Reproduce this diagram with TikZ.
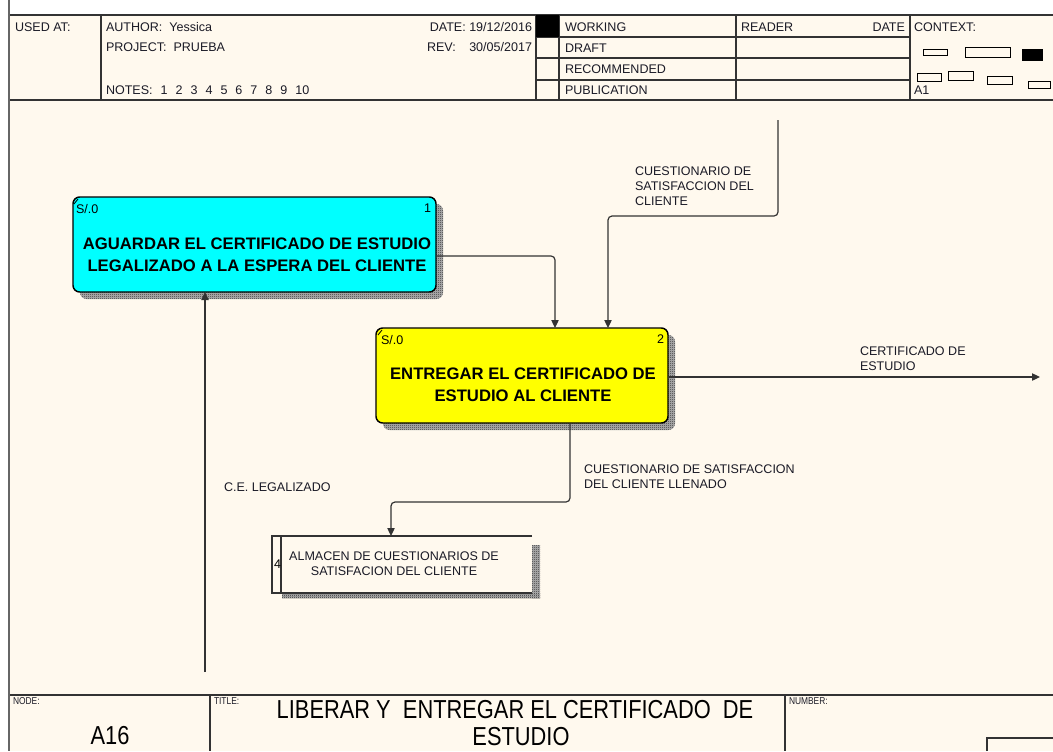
\documentclass[tikz,border=0pt]{standalone}
\usepackage{fontspec}
\setmainfont{Liberation Sans}
\newfontfamily\narrowfont[FakeStretch=0.84]{Liberation Sans}
\usetikzlibrary{arrows.meta,patterns}
\definecolor{paper}{HTML}{FFF9EE}
\definecolor{rule}{HTML}{333333}
\definecolor{ink}{HTML}{1A1A26}
\definecolor{boxcyan}{HTML}{00FFFF}
\definecolor{boxyellow}{HTML}{FFFF00}
% fine checker used for the box shadows
\pgfdeclarepatternformonly{finecheck}{\pgfpointorigin}{\pgfqpoint{1.5pt}{1.5pt}}{\pgfqpoint{1.5pt}{1.5pt}}{%
  \pgfpathrectangle{\pgfpointorigin}{\pgfqpoint{0.75pt}{0.75pt}}%
  \pgfpathrectangle{\pgfqpoint{0.75pt}{0.75pt}}{\pgfqpoint{0.75pt}{0.75pt}}%
  \pgfusepath{fill}}
\newcommand{\gap}{\hspace{6pt}}
\begin{document}
\begin{tikzpicture}[x=0.75pt,y=-0.75pt,
  txt/.style={inner sep=0pt, outer sep=0pt, text=ink},
  small/.style={txt, font=\fontsize{9.4}{11}\selectfont},
  hdr/.style={small, anchor=base west},
  hdrr/.style={small, anchor=base east},
  lbl/.style={small, anchor=north west, align=left},
  acttext/.style={txt, anchor=north, align=center, text=black,
    font=\fontsize{12.5}{16.5}\selectfont\bfseries},
  tag/.style={small, text=black},
  frame/.style={minimum width=#1, outer sep=0pt, inner sep=0pt},
  actbox/.style={draw=black, line width=1.1pt, rounded corners=5pt},
  shade/.style={fill=black!30, postaction={pattern=finecheck, pattern color=black!80}},
  rulel/.style={draw=rule, line width=0.8pt},
  ctx/.style={draw=black, line width=0.75pt},
  flow/.style={draw=rule, line width=0.9pt, rounded corners=3pt,
    -{Triangle[length=6pt,width=5.5pt]}},
  tinylbl/.style={txt, anchor=north west, font=\narrowfont\fontsize{7.5}{8.5}\selectfont},
  big/.style={txt, text=black, font=\narrowfont\fontsize{19.5}{22}\selectfont}
]
\useasboundingbox (0,0) rectangle (1053,751);
\fill[white] (0,0) rectangle (1053,751);
\fill[paper] (9,15) rectangle (1053,751);

% ---------- header ----------
\draw[rulel] (9,15) -- (1053,15);
\draw[rulel, line width=1.3pt] (9,100) -- (1053,100);
\foreach \x in {101,536,559,736,910} \draw[rulel] (\x,15) -- (\x,100);
\foreach \y in {37,58,80} \draw[rulel] (536,\y) -- (910,\y);
\fill[black] (536,15) rectangle (559,37);

\node[hdr] (usedat) at (15,31) {USED AT:};
\node[hdr] (author) at (106,31) {AUTHOR:\ \ Yessica};
\node[hdr] (project) at (106,51) {PROJECT:\ \ PRUEBA};
\node[hdr] (notes) at (106,94) {NOTES:\gap 1\gap 2\gap 3\gap 4\gap 5\gap 6\gap 7\gap 8\gap 9\gap 10};
\node[hdrr] (date) at (532,31) {DATE: 19/12/2016};
\node[hdr] (revl) at (427,51) {REV:};
\node[hdrr] (revd) at (532,51) {30/05/2017};
\node[hdr] (working) at (565,31) {WORKING};
\node[hdr] (draft) at (565,52) {DRAFT};
\node[hdr] (recommended) at (565,73) {RECOMMENDED};
\node[hdr] (publication) at (565,94) {PUBLICATION};
\node[hdr] (reader) at (741,31) {READER};
\node[hdrr] (rdate) at (905,31) {DATE};
\node[hdr] (context) at (914,31) {CONTEXT:};
\node[hdr] (aone) at (914,94) {A1};

% context thumbnails
\draw[ctx] (923,49) rectangle (947,55);
\draw[ctx] (965,47) rectangle (1010,57);
\fill[black] (1022,49) rectangle (1043,61);
\draw[ctx] (917,73) rectangle (941,81);
\draw[ctx] (948,71) rectangle (973,80);
\draw[ctx] (987,76) rectangle (1012,84);
\draw[ctx] (1028,81) rectangle (1050,88);

% ---------- footer ----------
\draw[rulel, line width=1.2pt] (9,695) -- (1053,695);
\draw[rulel] (210,695) -- (210,751);
\draw[rulel] (785,695) -- (785,751);
\draw[rulel] (987,751) -- (987,738) -- (1053,738);
\node[tinylbl] (nodelbl) at (13,698) {NODE:};
\node[tinylbl] (titlelbl) at (214,698) {TITLE:};
\node[tinylbl] (numberlbl) at (789,698) {NUMBER:};
\node[big] (nodeid) at (110,736) {A16};
\node[big] (title1) at (515,710) {LIBERAR Y\ \ ENTREGAR EL CERTIFICADO\ \ DE};
\node[big] (title2) at (521,737) {ESTUDIO};

% left frame edge
\draw[draw=black!60, line width=1.5pt] (9,0) -- (9,751);

% ---------- activity boxes ----------
\path (254.5,244.5) node[frame=272.25pt, minimum height=71.25pt] (b1) {};
\path (522,375.5) node[frame=219pt, minimum height=71.25pt] (b2) {};
\path (402,564.5) node[frame=195pt, minimum height=42.75pt] (st) {};

\path[shade, rounded corners=5pt] ([shift={(5.25pt,-5.25pt)}]b1.south west) rectangle ([shift={(5.25pt,-5.25pt)}]b1.north east);
\path[shade, rounded corners=5pt] ([shift={(5.25pt,-5.25pt)}]b2.south west) rectangle ([shift={(5.25pt,-5.25pt)}]b2.north east);
\draw[actbox, fill=boxcyan] (b1.south west) rectangle (b1.north east);
\draw[actbox, fill=boxyellow] (b2.south west) rectangle (b2.north east);

\node[acttext] (b1text) at (257,237.5) {AGUARDAR EL CERTIFICADO DE ESTUDIO\\LEGALIZADO A LA ESPERA DEL CLIENTE};
\node[acttext] (b2text) at (523,368) {ENTREGAR EL CERTIFICADO DE\\ESTUDIO AL CLIENTE};
\node[tag, anchor=north west] (b1cost) at (76,204) {S/.0};
\node[tag, anchor=north east] (b1num) at (431,204) {1};
\node[tag, anchor=north west] (b2cost) at (381,335) {S/.0};
\node[tag, anchor=north east] (b2num) at (664,335) {2};
\draw[line width=0.6pt] (74,204) -- (78,199);
\draw[line width=0.6pt] (378,335) -- (382,330);

% data store
\path[shade] ([shift={(0pt,-6.75pt)}]st.north east) rectangle ([shift={(6pt,-3.75pt)}]st.south east);
\path[shade] ([xshift=7.5pt]st.south west) rectangle ([shift={(6pt,-3.75pt)}]st.south east);
\draw[rulel, line width=1pt] (st.north east) -- (st.north west) -- (st.south west) -- (st.south east);
\draw[rulel, line width=1pt] ([xshift=6.75pt]st.north west) -- ([xshift=6.75pt]st.south west);
\node[tag, anchor=north west] (stnum) at (274,560) {4};
\node[small, anchor=north, align=center] (sttext) at (394,551.7) {ALMACEN DE CUESTIONARIOS DE\\SATISFACION DEL CLIENTE};

% ---------- arrows ----------
\coordinate (cin) at (778,120);
\coordinate (cout) at (1040,377);
\coordinate (split) at (391,502);
\coordinate (cein) at (205,672);

\draw[flow] ([yshift=-8.6pt]b1.east) -| ([xshift=24.75pt]b2.north);
\draw[flow] (cin) -- (cin |- 0,216) -| ([xshift=64.5pt]b2.north);
\draw[flow] (b2.east |- cout) -- (cout);
\draw[flow] ([xshift=36pt]b2.south) |- (split) -- (split |- st.north);
\draw[flow] (cein) -- (cein |- b1.south);

% arrow labels
\node[lbl] (lq) at (635,167) {CUESTIONARIO DE\\SATISFACCION DEL\\CLIENTE};
\node[lbl] (lcert) at (860,347) {CERTIFICADO DE\\ESTUDIO};
\node[lbl] (lfill) at (584,465) {CUESTIONARIO DE SATISFACCION\\DEL CLIENTE LLENADO};
\node[lbl] (lce) at (224,483) {C.E. LEGALIZADO};
\end{tikzpicture}
\end{document}
